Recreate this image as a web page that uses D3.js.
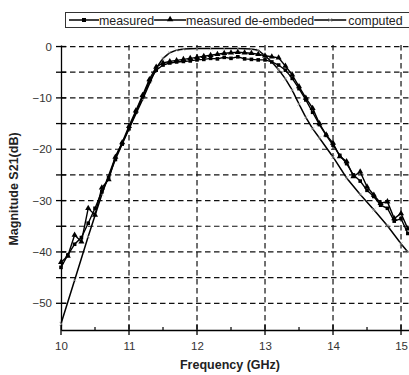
<!DOCTYPE html>
<html>
<head>
<meta charset="utf-8">
<script src="https://cdn.jsdelivr.net/npm/d3@7"></script>
<style>
  body { margin: 0; background: #fff; }
  svg { font-family: Arial, 'Liberation Sans', sans-serif; }
</style>
</head>
<body>
<div id="chart"></div>
<script>
// frequency grid of the measured traces (GHz)
const measFreq = [10.0, 10.1, 10.2, 10.3, 10.4, 10.5, 10.6, 10.7, 10.8, 10.9,
  11.0, 11.1, 11.2, 11.3, 11.4, 11.5, 11.6, 11.7, 11.8, 11.9,
  12.0, 12.1, 12.2, 12.3, 12.4, 12.5, 12.6, 12.7, 12.8, 12.9,
  13.0, 13.1, 13.2, 13.3, 13.4, 13.5, 13.6, 13.7, 13.8, 13.9,
  14.0, 14.1, 14.2, 14.3, 14.4, 14.5, 14.6, 14.7, 14.8, 14.9,
  15.0, 15.1]

const measured = [-43.0, -40.6, -38.5, -37.2, -34.4, -31.5, -28.3, -25.5, -22.0, -19.0,
  -16.0, -12.8, -9.8, -6.8, -4.6, -3.6, -3.2, -3.0, -2.9, -2.8,
  -2.6, -2.5, -2.3, -2.4, -2.1, -2.3, -2.0, -2.4, -2.5, -2.6,
  -2.6, -3.0, -3.6, -4.6, -6.2, -8.2, -10.4, -12.8, -15.2, -17.3,
  -19.2, -21.2, -22.8, -25.0, -26.2, -28.0, -29.2, -30.9, -31.5, -34.0,
  -33.5, -36.4]

const deembedded = [-42.0, -40.8, -36.7, -38.0, -31.5, -32.8, -27.5, -25.9, -21.5, -18.7,
  -15.5, -12.5, -9.5, -6.4, -4.0, -3.2, -2.9, -2.7, -2.5, -2.3,
  -2.1, -1.9, -1.7, -1.5, -1.3, -1.2, -1.1, -1.2, -1.3, -1.5,
  -1.8, -2.0, -2.2, -3.8, -5.5, -7.8, -10.0, -12.0, -15.0, -17.2,
  -18.8, -21.4, -22.4, -25.3, -24.4, -27.3, -28.9, -30.5, -30.2, -33.5,
  -32.5, -35.5]

const compFreq = [10.0, 10.2, 10.4, 10.6, 10.8, 11.0, 11.2, 11.4, 11.5, 11.6,
  11.7, 11.8, 12.0, 12.2, 12.4, 12.6, 12.8, 12.9, 13.0, 13.1,
  13.2, 13.3, 13.4, 13.5, 13.6, 13.7, 13.8, 14.0, 14.2, 14.4,
  14.6, 14.8, 15.0, 15.1]
const computed = [-54.0, -45.5, -37.0, -28.8, -21.5, -16.0, -10.3, -4.2, -2.3, -1.2,
  -0.7, -0.5, -0.4, -0.4, -0.4, -0.4, -0.5, -0.7, -1.8, -3.0,
  -4.5, -6.3, -8.5, -11.2, -13.8, -16.0, -17.8, -21.5, -25.6, -28.8,
  -31.8, -34.9, -38.4, -40.0]

const xTicks = [10, 11, 12, 13, 14, 15]
const yTicks = [0, -10, -20, -30, -40, -50]
const gridY = [0, -5, -10, -15, -20, -25, -30, -35, -40, -45, -50]
const seriesNames = ['measured', 'measured de-embeded', 'computed']

var width = 409
var height = 375

var svg = d3.select('#chart').append('svg')
  .attr('width', width)
  .attr('height', height)

var x = d3.scaleLinear().domain([10, 15.11]).range([61, 408.5])
var y = d3.scaleLinear().domain([-55.2, 0.3]).range([330, 45])

// ----------------------------------------
// grid
// ----------------------------------------
var grid = svg.append('g').attr('class', 'grid')
  .attr('stroke', '#111')
  .attr('stroke-width', 1.2)
  .attr('stroke-dasharray', '5.5,3.5')

grid.selectAll('line.h')
  .data(gridY)
  .enter().append('line')
    .attr('class', 'h')
    .attr('x1', x(10))
    .attr('x2', x(15.11))
    .attr('y1', d => y(d))
    .attr('y2', d => y(d))

grid.selectAll('line.v')
  .data(xTicks.slice(1))
  .enter().append('line')
    .attr('class', 'v')
    .attr('x1', d => x(d))
    .attr('x2', d => x(d))
    .attr('y1', y(0.3))
    .attr('y2', y(-55.2))

// ----------------------------------------
// axes
// ----------------------------------------
var xAxis = svg.append('g')
  .attr('transform', 'translate(0,' + y(-55.2) + ')')
  .call(d3.axisBottom(x).tickValues(xTicks).tickSize(0).tickPadding(12).tickFormat(d3.format('d')))
xAxis.select('.domain').attr('stroke-width', 1.3)

// ticks crossing the axis line
xAxis.selectAll('line.major')
  .data(xTicks)
  .enter().append('line')
    .attr('class', 'major')
    .attr('x1', d => x(d)).attr('x2', d => x(d))
    .attr('y1', -5).attr('y2', 5)
    .attr('stroke', '#000').attr('stroke-width', 1.3)
xAxis.selectAll('line.minor')
  .data(xTicks.slice(0, 5).map(d => d + 0.5))
  .enter().append('line')
    .attr('class', 'minor')
    .attr('x1', d => x(d)).attr('x2', d => x(d))
    .attr('y1', -3).attr('y2', 0)
    .attr('stroke', '#000').attr('stroke-width', 1.2)

var yAxis = svg.append('g')
  .attr('transform', 'translate(' + x(10) + ',0)')
  .call(d3.axisLeft(y).tickValues(yTicks).tickSize(0).tickPadding(9))
yAxis.select('.domain').attr('stroke-width', 1.3)

yAxis.selectAll('line.major')
  .data(gridY)
  .enter().append('line')
    .attr('class', 'major')
    .attr('y1', d => y(d)).attr('y2', d => y(d))
    .attr('x1', -5).attr('x2', 5)
    .attr('stroke', '#000').attr('stroke-width', 1.3)

svg.selectAll('.tick text')
  .style('font-size', '11.5px')
  .style('fill', '#333')

// axis titles
svg.append('text')
  .attr('x', 230)
  .attr('y', 369)
  .style('text-anchor', 'middle')
  .style('font-size', '12.5px')
  .style('font-weight', 'bold')
  .style('fill', '#222')
  .text('Frequency (GHz)')

svg.append('text')
  .attr('transform', 'translate(18,189) rotate(-90)')
  .style('text-anchor', 'middle')
  .style('font-size', '12.5px')
  .style('font-weight', 'bold')
  .style('fill', '#222')
  .text('Magnitude S21(dB)')

// ----------------------------------------
// curves
// ----------------------------------------
var line = d3.line()
  .x(d => x(d[0]))
  .y(d => y(d[1]))

var compData = d3.zip(compFreq, computed)
var measData = d3.zip(measFreq, measured)
var deData = d3.zip(measFreq, deembedded)

svg.append('path')
  .datum(compData)
  .attr('fill', 'none')
  .attr('stroke', '#000')
  .attr('stroke-width', 1.5)
  .attr('d', line)

svg.selectAll('path.cross')
  .data(compData)
  .enter().append('path')
    .attr('class', 'cross')
    .attr('d', d3.symbol(d3.symbolTimes, 10))
    .attr('transform', d => 'translate(' + x(d[0]) + ',' + y(d[1]) + ')')
    .attr('stroke', '#aaa')
    .attr('stroke-width', 0.6)
    .attr('fill', 'none')

svg.append('path')
  .datum(deData)
  .attr('fill', 'none')
  .attr('stroke', '#000')
  .attr('stroke-width', 1.4)
  .attr('d', line)

svg.selectAll('path.tri')
  .data(deData)
  .enter().append('path')
    .attr('class', 'tri')
    .attr('d', d3.symbol(d3.symbolTriangle, 16))
    .attr('transform', d => 'translate(' + x(d[0]) + ',' + y(d[1]) + ')')
    .attr('fill', '#000')

svg.append('path')
  .datum(measData)
  .attr('fill', 'none')
  .attr('stroke', '#000')
  .attr('stroke-width', 1.4)
  .attr('d', line)

svg.selectAll('rect.sq')
  .data(measData)
  .enter().append('rect')
    .attr('class', 'sq')
    .attr('x', d => x(d[0]) - 1.8)
    .attr('y', d => y(d[1]) - 1.8)
    .attr('width', 3.6)
    .attr('height', 3.6)
    .attr('fill', '#000')

// ----------------------------------------
// legend
// ----------------------------------------
var legend = svg.append('g').attr('class', 'legend')
legend.append('rect')
  .attr('x', 65.5).attr('y', 12.5)
  .attr('width', 360).attr('height', 15)
  .attr('fill', '#fff')
  .attr('stroke', '#333')
  .attr('stroke-width', 1)

var marks = ['sq', 'tri', 'cross']
var lineLen = [30, 32, 32]
var cursor = 69

seriesNames.forEach((name, i) => {
  var x1 = cursor
  var x2 = cursor + lineLen[i]
  legend.append('line')
    .attr('x1', x1).attr('x2', x2)
    .attr('y1', 20).attr('y2', 20)
    .attr('stroke', '#000')
    .attr('stroke-width', 1.5)
  var cx = (x1 + x2) / 2
  if (marks[i] === 'sq') {
    legend.append('rect')
      .attr('x', cx - 2).attr('y', 18).attr('width', 4).attr('height', 4)
      .attr('fill', '#000')
  } else if (marks[i] === 'tri') {
    legend.append('path')
      .attr('d', d3.symbol(d3.symbolTriangle, 18))
      .attr('transform', 'translate(' + cx + ',19.5)')
      .attr('fill', '#000')
  } else {
    legend.append('path')
      .attr('d', d3.symbol(d3.symbolTimes, 12))
      .attr('transform', 'translate(' + cx + ',20)')
      .attr('stroke', '#999')
      .attr('stroke-width', 0.8)
  }
  var t = legend.append('text')
    .attr('x', x2 + (i === 2 ? 2 : 0))
    .attr('y', 24.5)
    .style('font-size', '12.4px')
    .style('fill', '#222')
    .text(name)
  cursor = x2 + t.node().getComputedTextLength() + (i === 2 ? 2 : 0)
})
</script>
</body>
</html>
